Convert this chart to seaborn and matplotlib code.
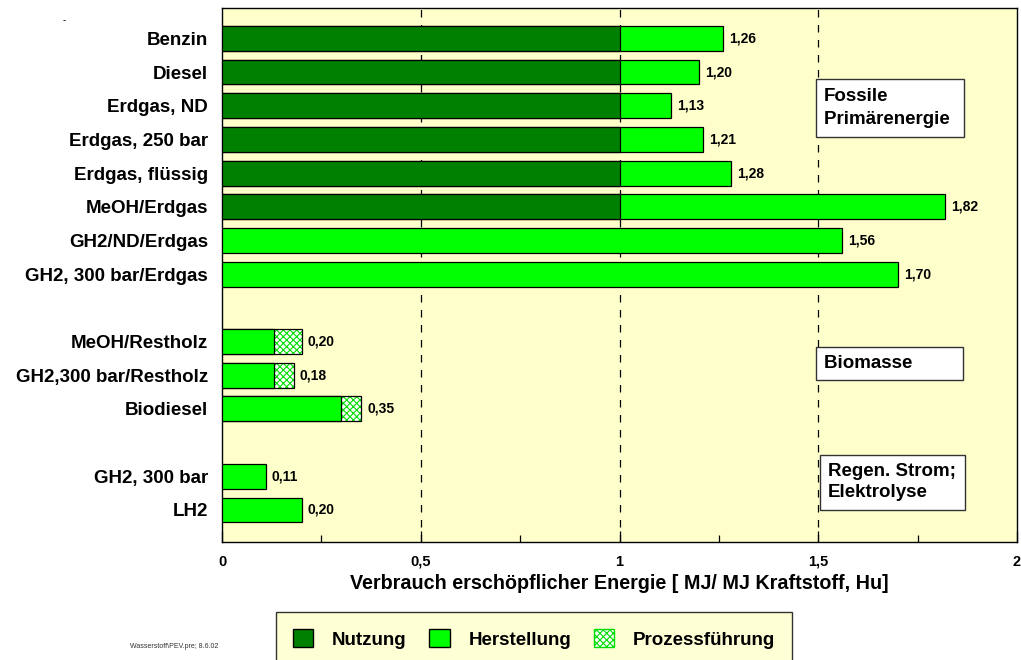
import numpy as np
import pandas as pd
import matplotlib.pyplot as plt
import seaborn as sns
from matplotlib.patches import Patch

# data
categories = ["Benzin", "Diesel", "Erdgas, ND", "Erdgas, 250 bar", "Erdgas, flüssig",
              "MeOH/Erdgas", "GH2/ND/Erdgas", "GH2, 300 bar/Erdgas",
              "MeOH/Restholz", "GH2,300 bar/Restholz", "Biodiesel",
              "GH2, 300 bar", "LH2"]
positions = [0, 1, 2, 3, 4, 5, 6, 7, 9, 10, 11, 13, 14]
nutzung = [1, 1, 1, 1, 1, 1, 0, 0, 0, 0, 0, 0, 0]
herstellung = [0.26, 0.20, 0.13, 0.21, 0.28, 0.82, 1.56, 1.70, 0.13, 0.13, 0.30, 0.11, 0.20]
prozess = [0, 0, 0, 0, 0, 0, 0, 0, 0.07, 0.05, 0.05, 0, 0]
totals = [1.26, 1.20, 1.13, 1.21, 1.28, 1.82, 1.56, 1.70, 0.20, 0.18, 0.35, 0.11, 0.20]
total_labels = ["1,26", "1,20", "1,13", "1,21", "1,28", "1,82", "1,56", "1,70",
                "0,20", "0,18", "0,35", "0,11", "0,20"]

sns.set_theme(style="white")
plt.rcParams["font.family"] = ["Liberation Sans", "DejaVu Sans"]
plt.rcParams["font.weight"] = "bold"
plt.rcParams["text.color"] = "black"
plt.rcParams["axes.labelcolor"] = "black"
plt.rcParams["xtick.color"] = "black"
plt.rcParams["ytick.color"] = "black"
plt.rcParams["hatch.linewidth"] = 0.8

df = pd.DataFrame({"pos": positions, "nutzung": nutzung, "herstellung": herstellung,
                   "prozess": prozess, "total": totals})
df["nh"] = df["nutzung"] + df["herstellung"]

DARK = "#008000"
LIGHT = "#00FF00"
BG = "#FFFFCC"

fig = plt.figure(figsize=(10.21, 6.6), dpi=100)
ax = fig.add_axes([222 / 1021, 1 - 542 / 660, 795 / 1021, 534 / 660])
ax.set_facecolor(BG)

bw = 0.74
# prozessfuehrung (hatched), drawn as the full total then covered
hatched = df[df["prozess"] > 0]
sns.barplot(data=hatched, x="total", y="pos", orient="y", native_scale=True,
            width=bw, color="white", edgecolor="#00DD00", linewidth=0,
            hatch="xxxxx", ax=ax, zorder=2)
sns.barplot(data=hatched, x="total", y="pos", orient="y", native_scale=True,
            width=bw, fill=False, edgecolor="black", linewidth=0.9, ax=ax, zorder=3)
# herstellung
sns.barplot(data=df, x="nh", y="pos", orient="y", native_scale=True,
            width=bw, color=LIGHT, saturation=1, edgecolor="black", linewidth=0.9,
            ax=ax, zorder=4)
# nutzung
used = df[df["nutzung"] > 0]
sns.barplot(data=used, x="nutzung", y="pos", orient="y", native_scale=True,
            width=bw, color=DARK, saturation=1, edgecolor="black", linewidth=0.9,
            ax=ax, zorder=5)

for p, t, lab in zip(positions, totals, total_labels):
    ax.text(t + 0.015, p, lab, va="center", ha="left", fontsize=10,
            fontweight="bold", zorder=6)

for xv in [0.5, 1, 1.5]:
    ax.axvline(xv, color="black", linestyle=(0, (6, 6)), linewidth=0.9, zorder=1)

ax.set_xlim(0, 2)
ax.set_ylim(14.95, -0.9)
ax.set_yticks(positions)
ax.set_yticklabels(categories, fontsize=13.5, fontweight="bold")
ax.set_xticks([0, 0.5, 1, 1.5, 2])
ax.set_xticklabels(["0", "0,5", "1", "1,5", "2"], fontsize=10.5, fontweight="bold")
ax.set_xticks(np.arange(0.25, 2, 0.5), minor=True)
ax.tick_params(axis="x", which="both", direction="in", bottom=True, pad=9)
ax.tick_params(axis="x", which="major", length=8, width=0.9)
ax.tick_params(axis="x", which="minor", length=5, width=0.9)
ax.tick_params(axis="y", length=0, pad=10)
ax.set_ylabel("")
ax.set_xlabel("Verbrauch erschöpflicher Energie [ MJ/ MJ Kraftstoff, Hu]",
              fontsize=14.2, fontweight="bold", labelpad=4)
for s in ax.spines.values():
    s.set_color("black")
    s.set_linewidth(1.0)

box = dict(boxstyle="square,pad=0.45", facecolor="white", edgecolor="#333333", linewidth=1)
ax.text(1.515, 2.07, "Fossile\nPrimärenergie ", fontsize=13.5, fontweight="bold",
        va="center", ha="left", bbox=box, linespacing=1.5, zorder=7)
ax.text(1.515, 9.65, "Biomasse        ", fontsize=13.5, fontweight="bold",
        va="center", ha="left", bbox=box, zorder=7)
ax.text(1.525, 13.18, "Regen. Strom;\nElektrolyse", fontsize=13.5, fontweight="bold",
        va="center", ha="left", bbox=box, linespacing=1.3, zorder=7)

handles = [Patch(facecolor=DARK, edgecolor="black", label="Nutzung"),
           Patch(facecolor=LIGHT, edgecolor="black", label="Herstellung"),
           Patch(facecolor="white", edgecolor="#00DD00", hatch="xxxxx", label="Prozessführung")]
leg = fig.legend(handles=handles, loc="upper center", bbox_to_anchor=(534 / 1021, 1 - 603 / 660),
                 ncol=3, frameon=True, fancybox=False,
                 prop={"weight": "bold", "size": 13.5}, handlelength=1.1, handleheight=1.1,
                 columnspacing=1.2, handletextpad=1.0, borderpad=0.9)
leg.get_frame().set_facecolor(BG)
leg.get_frame().set_edgecolor("black")
leg.get_frame().set_linewidth(1.0)

fig.text(130 / 1021, 1 - 646 / 660, "Wasserstoff\\PEV.pre; 8.6.02", fontsize=5,
         fontweight="normal", va="center", ha="left", color="#333333")
fig.text(63 / 1021, 1 - 20 / 660, "-", fontsize=7, fontweight="normal", va="center")

fig.savefig("out.png", dpi=100)
